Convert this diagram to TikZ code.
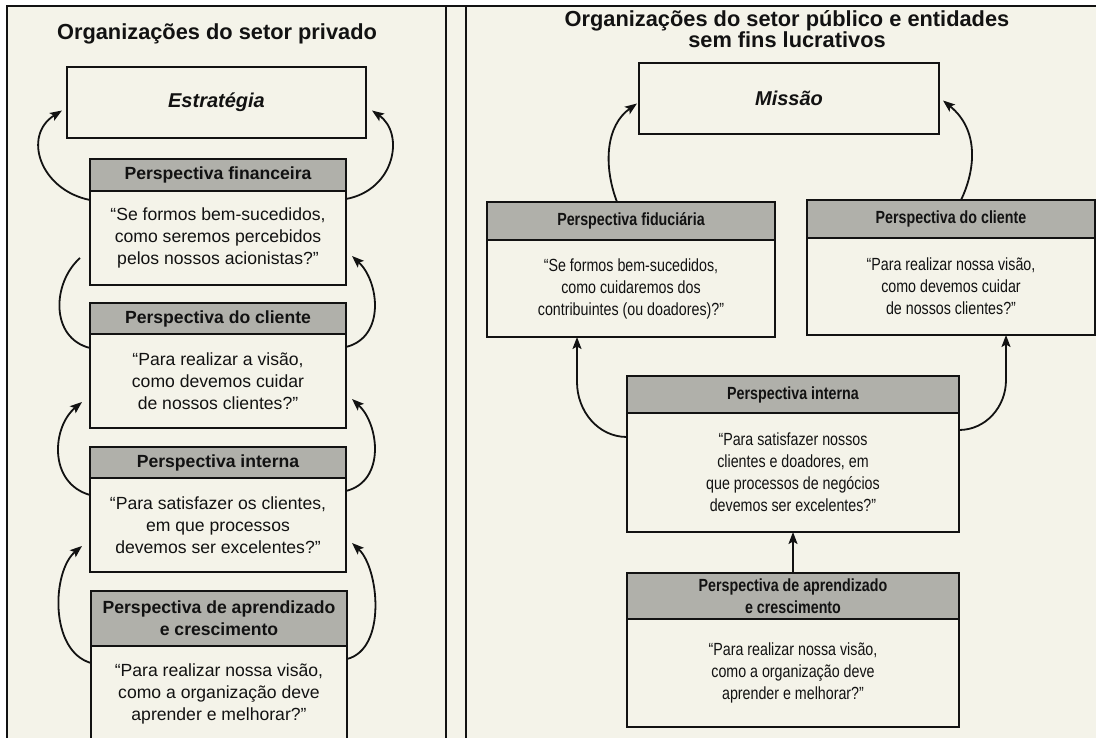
\documentclass[tikz,border=0pt]{standalone}
\usepackage{fontspec}
\setmainfont{Liberation Sans}
\newfontfamily\narrowsans[FakeStretch=0.81]{Liberation Sans}
\usetikzlibrary{arrows.meta,positioning}

\definecolor{paper}{RGB}{244,243,233}
\definecolor{headgray}{RGB}{176,176,170}
\definecolor{ink}{RGB}{18,18,18}

\tikzset{
  box/.style={draw=ink, text=ink, line width=1.8pt, inner sep=0pt, outer sep=0pt, align=center},
  lhead/.style={box, fill=headgray, minimum width=256pt, font=\fontsize{17.6}{22}\selectfont\bfseries},
  lbody/.style={box, fill=paper, minimum width=256pt, font=\fontsize{17.6}{22}\selectfont},
  rhead/.style={box, fill=headgray, font=\narrowsans\fontsize{17.6}{22}\selectfont\bfseries},
  rbody/.style={box, fill=paper, font=\narrowsans\fontsize{17.6}{22}\selectfont},
  topbox/.style={box, fill=paper, minimum height=71pt, font=\fontsize{20}{24}\selectfont\bfseries\itshape},
  titletext/.style={text=ink, inner sep=0pt, anchor=base, font=\fontsize{21.8}{21}\selectfont\bfseries},
  arr/.style={draw=ink, line width=1.8pt, -{Stealth[length=12pt,width=9pt,inset=2.5pt]}},
  curve/.style={draw=ink, line width=1.8pt}
}

\begin{document}
\begin{tikzpicture}[x=1pt, y=-1pt]
    \useasboundingbox (0,0) rectangle (1096,738);
    \clip (0,0) rectangle (1096,738);
    % page and frame
    \fill[white] (0,0) rectangle (1096,738);
    \fill[paper] (7,6) rectangle (1096,738);
    \draw[ink, line width=2.5pt] (7,738) -- (7,6) -- (1096,6);
    \draw[ink, line width=2pt] (446,6) -- (446,738) (466,6) -- (466,738);

    % left panel: private sector
    \node[titletext] (leftTitle) at (217,40) {Organizações do setor privado};
    \node[topbox, minimum width=299pt] (estr) at (216.5,102.5) {Estratégia};

    \node[lhead, minimum height=32pt] (finHead) at (218,175) {Perspectiva financeira};
    \node[lbody, minimum height=94pt, below=0pt of finHead] (finBody)
        {“Se formos bem-sucedidos,\\ como seremos percebidos\\ pelos nossos acionistas?”};
    \node[lhead, minimum height=31pt] (cliHead) at (218,318.5) {Perspectiva do cliente};
    \node[lbody, minimum height=94pt, below=0pt of cliHead] (cliBody)
        {“Para realizar a visão,\\ como devemos cuidar\\ de nossos clientes?”};
    \node[lhead, minimum height=31pt] (intHead) at (218,462.5) {Perspectiva interna};
    \node[lbody, minimum height=94pt, below=0pt of intHead] (intBody)
        {“Para satisfazer os clientes,\\ em que processos\\ devemos ser excelentes?”};
    \node[lhead, minimum height=55pt] (aprHead) at (219,618.5) {Perspectiva de aprendizado\\ e crescimento};
    \node[lbody, minimum height=96pt, below=0pt of aprHead] (aprBody)
        {“Para realizar nossa visão,\\ como a organização deve\\ aprender e melhorar?”};

    % arcs on the left panel
    \draw[arr] ([yshift=-9pt]finBody.north west) .. controls +(-50,-10) and +(-40,25) .. ([xshift=-5pt,yshift=-8pt]estr.west);
    \draw[arr] ([yshift=-8pt]finBody.north east) .. controls +(49,-9) and +(33,23) .. ([xshift=6pt,yshift=-8pt]estr.east);
    \draw[curve] ([yshift=-14pt]cliBody.north west) .. controls +(-40,-10) and +(-28,25) .. ([xshift=-10pt,yshift=27pt]finBody.south west);
    \foreach \lo/\up in {intBody/cliBody, aprBody/intBody} {
        \draw[arr] ([yshift=-17pt]\lo.north west) .. controls +(-42,-12) and +(-30,25) .. ([xshift=-8pt,yshift=26pt]\up.south west);
    }
    \foreach \lo/\up in {cliBody/finBody, intBody/cliBody, aprBody/intBody} {
        \draw[arr] ([yshift=-13pt]\lo.north east) .. controls +(40,-10) and +(27,25) .. ([xshift=6pt,yshift=29pt]\up.south east);
    }

    % right panel: public sector and non-profit
    \node[titletext] (rightTitleA) at (787,27) {Organizações do setor público e entidades};
    \node[titletext] (rightTitleB) at (787,48) {sem fins lucrativos};
    \node[topbox, minimum width=300pt] (mis) at (789,98.5) {Missão};

    \node[rhead, minimum width=288pt, minimum height=38pt] (fidHead) at (631,221) {Perspectiva fiduciária};
    \node[rbody, minimum width=288pt, minimum height=97pt, below=0pt of fidHead] (fidBody)
        {“Se formos bem-sucedidos,\\ como cuidaremos dos\\ contribuintes (ou doadores)?”};
    \node[rhead, minimum width=288pt, minimum height=38pt] (rcliHead) at (951,219) {Perspectiva do cliente};
    \node[rbody, minimum width=288pt, minimum height=97pt, below=0pt of rcliHead] (rcliBody)
        {“Para realizar nossa visão,\\ como devemos cuidar\\ de nossos clientes?”};
    \node[rhead, minimum width=332pt, minimum height=37pt] (rintHead) at (793,394.5) {Perspectiva interna};
    \node[rbody, minimum width=332pt, minimum height=119pt, below=0pt of rintHead] (rintBody)
        {“Para satisfazer nossos\\ clientes e doadores, em\\ que processos de negócios\\ devemos ser excelentes?”};
    \node[rhead, minimum width=332pt, minimum height=46pt] (raprHead) at (793,596) {Perspectiva de aprendizado\\ e crescimento};
    \node[rbody, minimum width=332pt, minimum height=108pt, below=0pt of raprHead] (raprBody)
        {“Para realizar nossa visão,\\ como a organização deve\\ aprender e melhorar?”};

    % connectors on the right panel
    \draw[arr] ([xshift=-14pt]fidHead.north) .. controls +(-14,-37) and +(-31,22) .. ([xshift=-2pt,yshift=-5pt]mis.west);
    \draw[arr] ([xshift=10pt]rcliHead.north) .. controls +(14,-29) and +(37,30) .. ([xshift=4pt,yshift=-2pt]mis.east);
    \draw[arr] ([yshift=-24pt]rintBody.north west) to[out=180,in=-90] ++(-50,-55) -- ([xshift=-54pt]fidBody.south);
    \draw[arr] ([yshift=-17pt]rintBody.north east) to[out=0,in=-90] ++(47,-50) -- ([xshift=55pt]rcliBody.south);
    \draw[arr] (raprHead.north) -- (rintBody.south);
\end{tikzpicture}
\end{document}
